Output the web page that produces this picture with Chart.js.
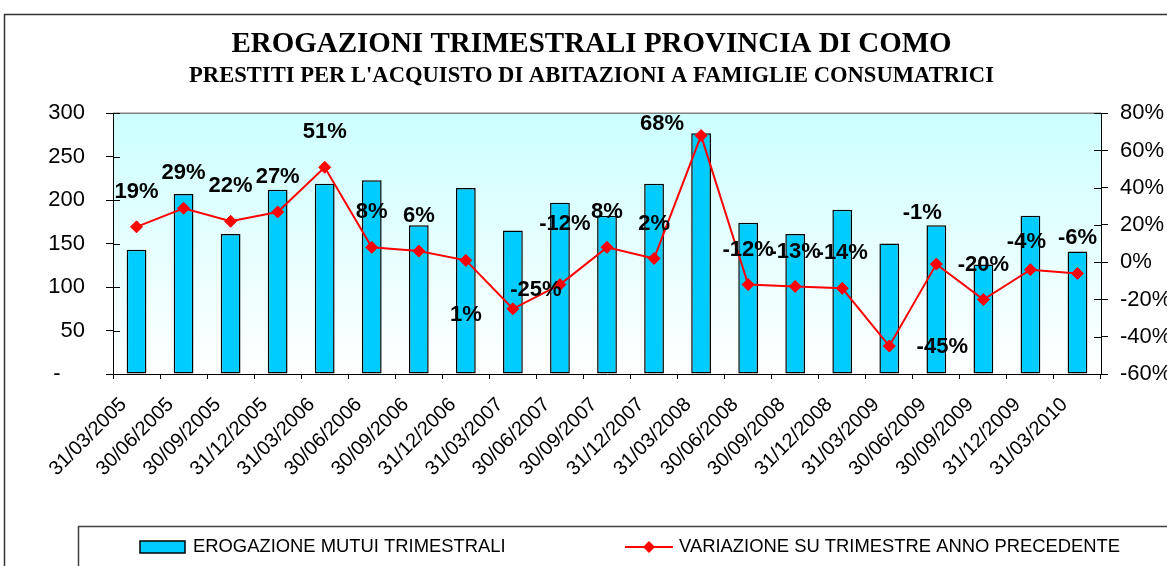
<!DOCTYPE html>
<html>
<head>
<meta charset="utf-8">
<title>Erogazioni trimestrali provincia di Como</title>
<script src="https://cdn.jsdelivr.net/npm/chart.js@4.4.1/dist/chart.umd.min.js"></script>
<style>
  html, body { margin: 0; padding: 0; background: #ffffff; }
  #wrap { width: 1167px; height: 566px; position: relative; }
</style>
</head>
<body>
<div id="wrap"><canvas id="chart" width="1167" height="566"></canvas></div>
<script>
'use strict';

// ── Data ─────────────────────────────────────────────
const quarters = [
  '31/03/2005', '30/06/2005', '30/09/2005', '31/12/2005',
  '31/03/2006', '30/06/2006', '30/09/2006', '31/12/2006',
  '31/03/2007', '30/06/2007', '30/09/2007', '31/12/2007',
  '31/03/2008', '30/06/2008', '30/09/2008', '31/12/2008',
  '31/03/2009', '30/06/2009', '30/09/2009', '31/12/2009',
  '31/03/2010'
];
const erogazioni = [143, 207, 161, 212, 219, 223, 171, 214, 165, 197, 182,
                    219, 277, 174, 161, 189, 150, 171, 126, 182, 141];
const variazione = [19, 29, 22, 27, 51, 8, 6, 1, -25, -12, 8,
                    2, 68, -12, -13, -14, -45, -1, -20, -4, -6];

const leftRange  = { min: 0,   max: 300, step: 50 };
const rightRange = { min: -60, max: 80,  step: 20 };

const titleText    = 'EROGAZIONI TRIMESTRALI PROVINCIA DI COMO';
const subtitleText = "PRESTITI PER L'ACQUISTO DI ABITAZIONI A FAMIGLIE CONSUMATRICI";
const barLabel     = 'EROGAZIONE MUTUI TRIMESTRALI';
const lineLabel    = 'VARIAZIONE SU TRIMESTRE ANNO PRECEDENTE';

// ── Colours ──────────────────────────────────────────
const BAR_FILL = '#00ccff';
const LINE_RED = '#ff0000';
const SANS  = "'Liberation Sans', Arial, sans-serif";
const SERIF = "'Liberation Serif', 'Times New Roman', serif";

// data label nudges (px) where the label is not straight above the point
const labelShift = { 7: [0, 55], 8: [23, -19], 9: [5, -61], 12: [-39, -12],
                     16: [53, 1], 17: [-14, -51], 19: [-4, -28] };

// ── Plugins ──────────────────────────────────────────
const plotBackground = {
  id: 'plotBackground',
  beforeDraw(chart) {
    const { ctx, chartArea: a } = chart;
    const g = ctx.createLinearGradient(0, a.top, 0, a.bottom);
    g.addColorStop(0, '#ccffff');
    g.addColorStop(1, '#ffffff');
    ctx.save();
    ctx.fillStyle = g;
    ctx.fillRect(a.left, a.top, a.right - a.left, a.bottom - a.top);
    ctx.strokeStyle = '#808080';
    ctx.lineWidth = 1.5;
    ctx.beginPath();
    ctx.moveTo(a.left, a.top);
    ctx.lineTo(a.right, a.top);
    ctx.stroke();
    ctx.restore();
  }
};

const pointLabels = {
  id: 'pointLabels',
  afterDatasetsDraw(chart) {
    const { ctx } = chart;
    const meta = chart.getDatasetMeta(1);
    ctx.save();
    ctx.font = 'bold 22px ' + SANS;
    ctx.fillStyle = '#000';
    ctx.textAlign = 'center';
    ctx.textBaseline = 'middle';
    meta.data.forEach((pt, i) => {
      const [dx, dy] = labelShift[i] || [0, -35];
      ctx.fillText(variazione[i] + '%', pt.x + dx, pt.y + dy);
    });
    ctx.restore();
  }
};

const frameAndLegend = {
  id: 'frameAndLegend',
  afterDraw(chart) {
    const { ctx, chartArea: a, scales } = chart;
    ctx.save();

    // inner half of the y tick marks
    ctx.strokeStyle = '#000';
    ctx.lineWidth = 1;
    ctx.beginPath();
    scales.y.ticks.forEach(t => {
      const y = Math.round(scales.y.getPixelForValue(t.value)) + 0.5;
      ctx.moveTo(a.left, y); ctx.lineTo(a.left + 7, y);
    });
    scales.y1.ticks.forEach(t => {
      const y = Math.round(scales.y1.getPixelForValue(t.value)) + 0.5;
      ctx.moveTo(a.right - 7, y); ctx.lineTo(a.right, y);
    });
    ctx.stroke();

    // outer frame
    ctx.strokeStyle = '#333';
    ctx.lineWidth = 1.5;
    ctx.beginPath();
    ctx.moveTo(4.5, 566); ctx.lineTo(4.5, 14.5); ctx.lineTo(1167, 14.5);
    ctx.stroke();

    // legend box
    ctx.strokeStyle = '#404040';
    ctx.lineWidth = 1.5;
    ctx.beginPath();
    ctx.moveTo(78.5, 566); ctx.lineTo(78.5, 526.5); ctx.lineTo(1167, 526.5);
    ctx.stroke();

    const ly = 547;
    ctx.fillStyle = BAR_FILL;
    ctx.fillRect(140, ly - 6, 45, 12);
    ctx.strokeStyle = '#000';
    ctx.lineWidth = 1.5;
    ctx.strokeRect(140, ly - 6, 45, 12);

    ctx.strokeStyle = LINE_RED;
    ctx.lineWidth = 2;
    ctx.beginPath();
    ctx.moveTo(625, ly); ctx.lineTo(673, ly);
    ctx.stroke();
    ctx.fillStyle = LINE_RED;
    ctx.beginPath();
    ctx.moveTo(649 - 6, ly); ctx.lineTo(649, ly - 6);
    ctx.lineTo(649 + 6, ly); ctx.lineTo(649, ly + 6);
    ctx.closePath();
    ctx.fill();

    ctx.fillStyle = '#000';
    ctx.font = '18.4px ' + SANS;
    ctx.textAlign = 'left';
    ctx.textBaseline = 'middle';
    ctx.fillText(barLabel, 193, ly);
    ctx.fillText(lineLabel, 679, ly);
    ctx.restore();
  }
};

// ── Chart ────────────────────────────────────────────
Chart.defaults.font.family = SANS;
Chart.defaults.color = '#000';

new Chart(document.getElementById('chart').getContext('2d'), {
  data: {
    labels: quarters,
    datasets: [
      {
        type: 'bar',
        label: barLabel,
        data: erogazioni,
        yAxisID: 'y',
        order: 1,
        backgroundColor: BAR_FILL,
        borderColor: '#000',
        borderWidth: 1.5,
        borderSkipped: false,
        barPercentage: 0.42,
        categoryPercentage: 1
      },
      {
        type: 'line',
        label: lineLabel,
        data: variazione,
        yAxisID: 'y1',
        order: 0,
        borderColor: LINE_RED,
        borderWidth: 2,
        pointStyle: 'rectRot',
        pointRadius: 6,
        pointBackgroundColor: LINE_RED,
        pointBorderColor: LINE_RED,
        pointBorderWidth: 1,
        tension: 0
      }
    ]
  },
  options: {
    responsive: false,
    animation: false,
    layout: { padding: { left: 16, right: 0, top: 10, bottom: 60 } },
    plugins: {
      legend: { display: false },
      tooltip: { enabled: false },
      title: {
        display: true,
        text: titleText,
        color: '#000',
        font: { family: SERIF, size: 29, weight: 'bold', lineHeight: 1.2 },
        padding: { top: 17, bottom: 0 }
      },
      subtitle: {
        display: true,
        text: subtitleText,
        color: '#000',
        font: { family: SERIF, size: 22.6, weight: 'bold', lineHeight: 1.17 },
        padding: { top: 1, bottom: 24 }
      }
    },
    scales: {
      x: {
        offset: true,
        grid: { offset: true, drawOnChartArea: false, drawTicks: true,
                tickLength: 5, color: '#000' },
        border: { display: true, color: '#000', width: 1 },
        ticks: {
          autoSkip: false, minRotation: 45, maxRotation: 45,
          padding: 14, labelOffset: -13,
          font: { size: 20 }, color: '#000'
        },
        afterFit: s => { s.height = 132; }
      },
      y: {
        position: 'left',
        min: leftRange.min, max: leftRange.max,
        grid: { drawOnChartArea: false, tickLength: 7, color: '#000' },
        border: { display: true, color: '#000', width: 1 },
        ticks: {
          stepSize: leftRange.step, padding: 21,
          font: { size: 22 }, color: '#000',
          callback: v => (v === 0 ? '-    ' : String(v))
        },
        afterFit: s => { s.width = 97; }
      },
      y1: {
        position: 'right',
        min: rightRange.min, max: rightRange.max,
        grid: { drawOnChartArea: false, tickLength: 7, color: '#000' },
        border: { display: true, color: '#000', width: 1 },
        ticks: {
          stepSize: rightRange.step, padding: 12,
          font: { size: 22 }, color: '#000',
          callback: v => v + '%'
        },
        afterFit: s => { s.width = 66; }
      }
    }
  },
  plugins: [plotBackground, pointLabels, frameAndLegend]
});
</script>
</body>
</html>
